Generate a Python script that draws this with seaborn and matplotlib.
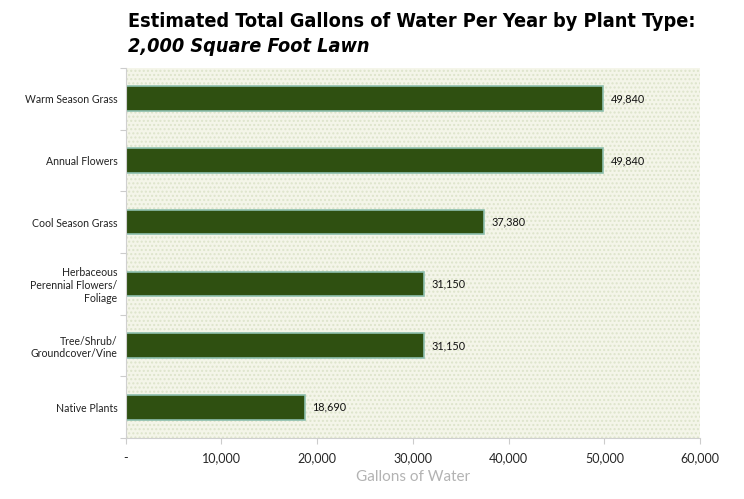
import matplotlib
matplotlib.use("Agg")
import matplotlib.pyplot as plt
import seaborn as sns
import pandas as pd
from matplotlib.patches import Rectangle
from matplotlib.ticker import FuncFormatter

plants = ['Warm Season Grass', 'Annual Flowers', 'Cool Season Grass',
          'Herbaceous\nPerennial Flowers/\nFoliage', 'Tree/Shrub/\nGroundcover/Vine',
          'Native Plants']
gallons = [49840, 49840, 37380, 31150, 31150, 18690]
xticks = [0, 10000, 20000, 30000, 40000, 50000, 60000]

df = pd.DataFrame({'plant': plants, 'gallons': gallons})

sns.set_theme(style='white')
plt.rcParams['font.family'] = ['Lato', 'DejaVu Sans']

fig = plt.figure(figsize=(7.44, 4.99), dpi=100)
ax = fig.add_axes([0.169, 0.122, 0.772, 0.742])

# textured background
ax.set_facecolor('#f4f5e9')
bg = Rectangle((0, 0), 1, 1, transform=ax.transAxes, facecolor='none',
               edgecolor='#dde4cb', hatch='....', lw=0, zorder=0)
ax.add_patch(bg)

sns.barplot(data=df, x='gallons', y='plant', orient='h', color='#2f5a07',
            width=0.4, edgecolor='#8dbfae', linewidth=1.2, ax=ax, zorder=2)

for i, v in enumerate(gallons):
    ax.text(v + 800, i, f'{v:,}', va='center', ha='left', fontsize=7.8, color='#111111')

ax.set_xlim(0, 60000)
ax.set_ylim(5.5, -0.5)
ax.set_xticks(xticks)
ax.xaxis.set_major_formatter(FuncFormatter(lambda x, p: '-' if x == 0 else f'{int(x):,}'))
ax.set_yticks([i + 0.5 for i in range(-1, 6)], minor=True)
ax.tick_params(axis='y', which='major', length=0, labelsize=7.6, pad=6, labelcolor='#222222')
ax.tick_params(axis='y', which='minor', length=4, color='#cccccc', width=0.8, left=True)
ax.tick_params(axis='x', which='major', length=4, color='#cccccc', width=0.8,
               bottom=True, labelsize=9, pad=6)
for lab in ax.get_yticklabels():
    lab.set_multialignment('right')

ax.set_ylabel('')
ax.set_xlabel('Gallons of Water', fontsize=11, color='#b3b3b3', labelpad=4)

for s in ['top', 'right']:
    ax.spines[s].set_visible(False)
for s in ['left', 'bottom']:
    ax.spines[s].set_color('#d0d0d0')
    ax.spines[s].set_linewidth(0.8)

fig.text(0.172, 0.956, 'Estimated Total Gallons of Water Per Year by Plant Type:',
         fontsize=14.2, fontweight='heavy', fontstretch='condensed', family='DejaVu Sans',
         color='black', ha='left', va='center')
fig.text(0.172, 0.906, '2,000 Square Foot Lawn', fontsize=14.2, fontweight='heavy',
         fontstretch='condensed', fontstyle='italic', family='DejaVu Sans',
         color='black', ha='left', va='center')

fig.savefig('out.png', dpi=100)
